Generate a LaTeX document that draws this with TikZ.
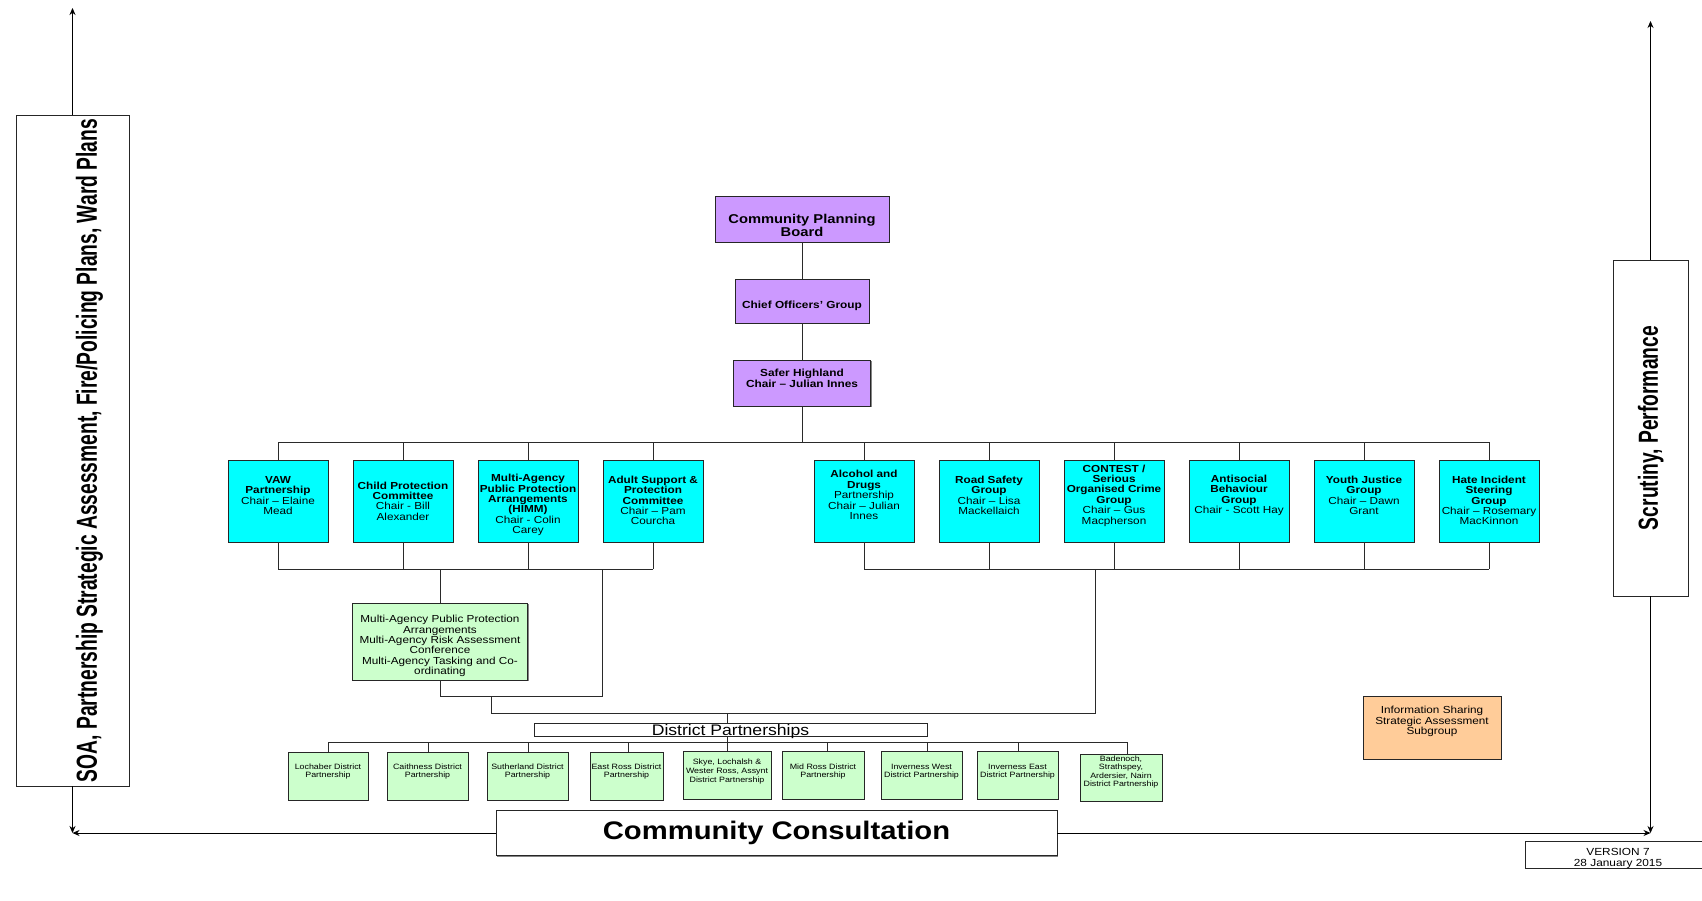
\documentclass[tikz,border=0pt]{standalone}
\usepackage{fontspec}
\setmainfont{Liberation Sans}[FakeStretch=1.15]
\usepackage{graphicx}
\usetikzlibrary{arrows.meta,shadows}
\definecolor{purp}{HTML}{CC99FF}
\definecolor{cyanb}{HTML}{00FFFF}
\definecolor{greenb}{HTML}{CCFFCC}
\definecolor{orangeb}{HTML}{FFCC99}
\definecolor{linec}{HTML}{2A2A2A}
\begin{document}
\begin{tikzpicture}[x=1pt,y=-1pt,
  base/.style={draw=black!85, line width=0.8pt, inner sep=0pt, align=center, anchor=center},
  shad/.style={drop shadow={shadow xshift=1.3pt, shadow yshift=-1.3pt, fill=black!60, opacity=0.8}},
  pbox/.style={base, shad, fill=purp},
  ptxt/.style={inner sep=0pt, align=center, font=\fontsize{10.3}{10.8}\selectfont\bfseries},
  cbox/.style={base, shad, fill=cyanb, minimum width=100pt, minimum height=82pt},
  ctxt/.style={inner sep=0pt, align=center, font=\fontsize{10.2}{10.4}\selectfont},
  gbox/.style={base, shad, fill=greenb},
  gtxt/.style={inner sep=0pt, align=center, font=\fontsize{10.2}{10.3}\selectfont},
  dbox/.style={base, shad, fill=greenb, minimum height=48pt},
  dtxt/.style={inner sep=0pt, align=center, font=\fontsize{7.7}{8.6}\selectfont},
  conn/.style={draw=linec, line width=0.9pt},
  arr/.style={draw=black, line width=0.8pt, -{Stealth[length=7pt,width=6pt]}},
]
\useasboundingbox (0,0) rectangle (1702,901);
\fill[white] (0,0) rectangle (1702,901);

% side boxes
\node[base, minimum width=113pt, minimum height=671pt] (soa) at (72.5,450.5) {};
\node[inner sep=0pt, anchor=east] (soat) at (97,450.5) {\rotatebox{90}{\resizebox{663pt}{21pt}{\raisebox{0pt}[\height][0pt]{\bfseries SOA, Partnership Strategic Assessment, Fire/Policing Plans, Ward Plans}}}};
\node[base, minimum width=75pt, minimum height=336pt] (scr) at (1650.5,428) {};
\node[inner sep=0pt, anchor=east] (scrt) at (1658,428) {\rotatebox{90}{\resizebox{204pt}{20pt}{\raisebox{0pt}[\height][0pt]{\bfseries Scrutiny, Performance}}}};

% purple column
\node[pbox, minimum width=174pt, minimum height=46pt] (cpb) at (802,219) {};
\node[ptxt, font=\fontsize{12.8}{13}\selectfont\bfseries] (cpbt) at (802,225) {Community Planning\\Board};
\node[pbox, minimum width=134pt, minimum height=44pt] (cog) at (802,301) {};
\node[ptxt] (cogt) at (802,306) {Chief Officers' Group};
\node[pbox, minimum width=137pt, minimum height=46pt] (sh) at (802,383) {};
\node[ptxt] (sht) at (802,378) {Safer Highland\\Chair – Julian Innes};

% cyan boxes
\node[cbox] (vaw) at (278,501) {};
\node[ctxt] (vawt) at (278,495.5) {\textbf{VAW}\\\textbf{Partnership}\\Chair – Elaine\\Mead};
\node[cbox] (cpc) at (403,501) {};
\node[ctxt] (cpct) at (403,501) {\textbf{Child Protection}\\\textbf{Committee}\\Chair - Bill\\Alexander};
\node[cbox] (himm) at (528,501) {};
\node[ctxt] (himmt) at (528,505) {\textbf{Multi-Agency}\\\textbf{Public Protection}\\\textbf{Arrangements}\\\textbf{(HIMM)}\\Chair - Colin\\Carey};
\node[cbox] (asp) at (653,501) {};
\node[ctxt] (aspt) at (653,500.5) {\textbf{Adult Support \&}\\\textbf{Protection}\\\textbf{Committee}\\Chair – Pam\\Courcha};
\node[cbox] (ad) at (864,501) {};
\node[ctxt] (adt) at (864,495) {\textbf{Alcohol and}\\\textbf{Drugs}\\Partnership\\Chair – Julian\\Innes};
\node[cbox] (rs) at (989,501) {};
\node[ctxt] (rst) at (989,495.5) {\textbf{Road Safety}\\\textbf{Group}\\Chair – Lisa\\Mackellaich};
\node[cbox] (con) at (1114,501) {};
\node[ctxt] (cont) at (1114,495.5) {\textbf{CONTEST /}\\\textbf{Serious}\\\textbf{Organised Crime}\\\textbf{Group}\\Chair – Gus\\Macpherson};
\node[cbox] (asb) at (1239,501) {};
\node[ctxt] (asbt) at (1239,495.5) {\textbf{Antisocial}\\\textbf{Behaviour}\\\textbf{Group}\\Chair - Scott Hay};
\node[cbox] (yj) at (1364,501) {};
\node[ctxt] (yjt) at (1364,495.5) {\textbf{Youth Justice}\\\textbf{Group}\\Chair – Dawn\\Grant};
\node[cbox] (hi) at (1489,501) {};
\node[ctxt] (hit) at (1489,500.5) {\textbf{Hate Incident}\\\textbf{Steering}\\\textbf{Group}\\Chair – Rosemary\\MacKinnon};

% MAPPA
\node[gbox, minimum width=175pt, minimum height=77pt] (mappa) at (440,641.5) {};
\node[gtxt] (mappat) at (440,646) {Multi-Agency Public Protection\\Arrangements\\Multi-Agency Risk Assessment\\Conference\\Multi-Agency Tasking and Co-\\ordinating};

% District Partnerships
\node[base, fill=white, minimum width=393pt, minimum height=13pt, font=\fontsize{15.3}{16}\selectfont, text height=11pt, text depth=0pt] (dp) at (730.5,729.5) {District Partnerships};

\node[dbox, minimum width=80pt] (loch) at (328,776) {};
\node[dtxt] (locht) at (328,771.5) {Lochaber District\\Partnership};
\node[dbox, minimum width=81pt] (caith) at (427.5,776) {};
\node[dtxt] (caitht) at (427.5,771.5) {Caithness District\\Partnership};
\node[dbox, minimum width=81pt] (suth) at (527.5,776) {};
\node[dtxt] (sutht) at (527.5,771.5) {Sutherland District\\Partnership};
\node[dbox, minimum width=73pt] (eros) at (626.5,776) {};
\node[dtxt] (erost) at (626.5,771.5) {East Ross District\\Partnership};
\node[dbox, minimum width=88pt] (skye) at (727,775) {};
\node[dtxt] (skyet) at (727,771.5) {Skye, Lochalsh \&\\Wester Ross, Assynt\\District Partnership};
\node[dbox, minimum width=82pt] (mros) at (823,775) {};
\node[dtxt] (mrost) at (823,771.5) {Mid Ross District\\Partnership};
\node[dbox, minimum width=81pt] (invw) at (921.5,775) {};
\node[dtxt] (invwt) at (921.5,771.5) {Inverness West\\District Partnership};
\node[dbox, minimum width=81pt] (inve) at (1017.5,775) {};
\node[dtxt] (invet) at (1017.5,771.5) {Inverness East\\District Partnership};
\node[dbox, minimum width=82pt, minimum height=47pt] (bad) at (1121,777.5) {};
\node[dtxt] (badt) at (1121,772) {Badenoch,\\Strathspey,\\Ardersier, Nairn\\District Partnership};

% Information sharing
\node[base, shad, fill=orangeb, minimum width=138pt, minimum height=63pt] (isb) at (1432,727.5) {};
\node[gtxt] (isbt) at (1432,721.5) {Information Sharing\\Strategic Assessment\\Subgroup};

% Community consultation
\node[base, shad, fill=white, minimum width=561pt, minimum height=45pt, font=\fontsize{25.4}{27}\selectfont\bfseries] (cc) at (776.5,833) {Community Consultation};

% version
\node[base, fill=white, minimum width=181pt, minimum height=27pt] (ver) at (1615.5,854.5) {};
\node[inner sep=0pt, align=center, font=\fontsize{10.3}{10.8}\selectfont] (vert) at (1618,858.5) {VERSION 7\\28 January 2015};

% arrows
\coordinate (soatop) at (72.5,8);
\coordinate (corL) at (72.5,833);
\coordinate (scrtop) at (1650.5,21);
\coordinate (corR) at (1650.5,833);
\draw[arr] (soa.north) -- (soatop);
\draw[arr] (soa.south) -- (corL);
\draw[arr] (cc.west) -- (corL);
\draw[arr] (scr.north) -- (scrtop);
\draw[arr] (scr.south) -- (corR);
\draw[arr] (cc.east) -- (corR);

% connectors
\coordinate (ub) at (802,442);
\draw[conn] (cpb.south) -- (cog.north);
\draw[conn] (cog.south) -- (sh.north);
\draw[conn] (sh.south) -- (ub);
\draw[conn] (vaw.north |- ub) -- (hi.north |- ub);
\foreach \n in {vaw,cpc,himm,asp,ad,rs,con,asb,yj,hi} \draw[conn] (\n.north) -- (\n.north |- ub);
\coordinate (lb) at (440,569);
\coordinate (rb) at (1095,569);
\draw[conn] (vaw.south |- lb) -- (asp.south |- lb);
\draw[conn] (ad.south |- rb) -- (hi.south |- rb);
\foreach \n in {vaw,cpc,himm,asp,ad,rs,con,asb,yj,hi} \draw[conn] (\n.south) -- (\n.south |- lb);
\draw[conn] (lb) -- (mappa.north);
\coordinate (ja) at (602,569);
\coordinate (jb) at (602,696);
\draw[conn] (ja) -- (jb) -- (mappa.south |- jb) -- (mappa.south);
\coordinate (jc) at (491,696);
\coordinate (jd) at (491,713);
\coordinate (je) at (1095,713);
\draw[conn] (jc) -- (jd) -- (je) -- (rb);
\coordinate (jf) at (727,713);
\draw[conn] (jf) -- (jf |- dp.north);
\draw[conn] (jf |- dp.south) -- (skye.north);
\coordinate (db) at (328,742);
\coordinate (dbe) at (1127,742);
\draw[conn] (db) -- (dbe);
\foreach \x/\n in {328/loch,428/caith,528/suth,628/eros,827/mros,927/invw,1018/inve,1127/bad} {
  \coordinate (t\n) at (\x,742);
  \draw[conn] (t\n) -- (t\n |- \n.north);
}
\end{tikzpicture}
\end{document}
